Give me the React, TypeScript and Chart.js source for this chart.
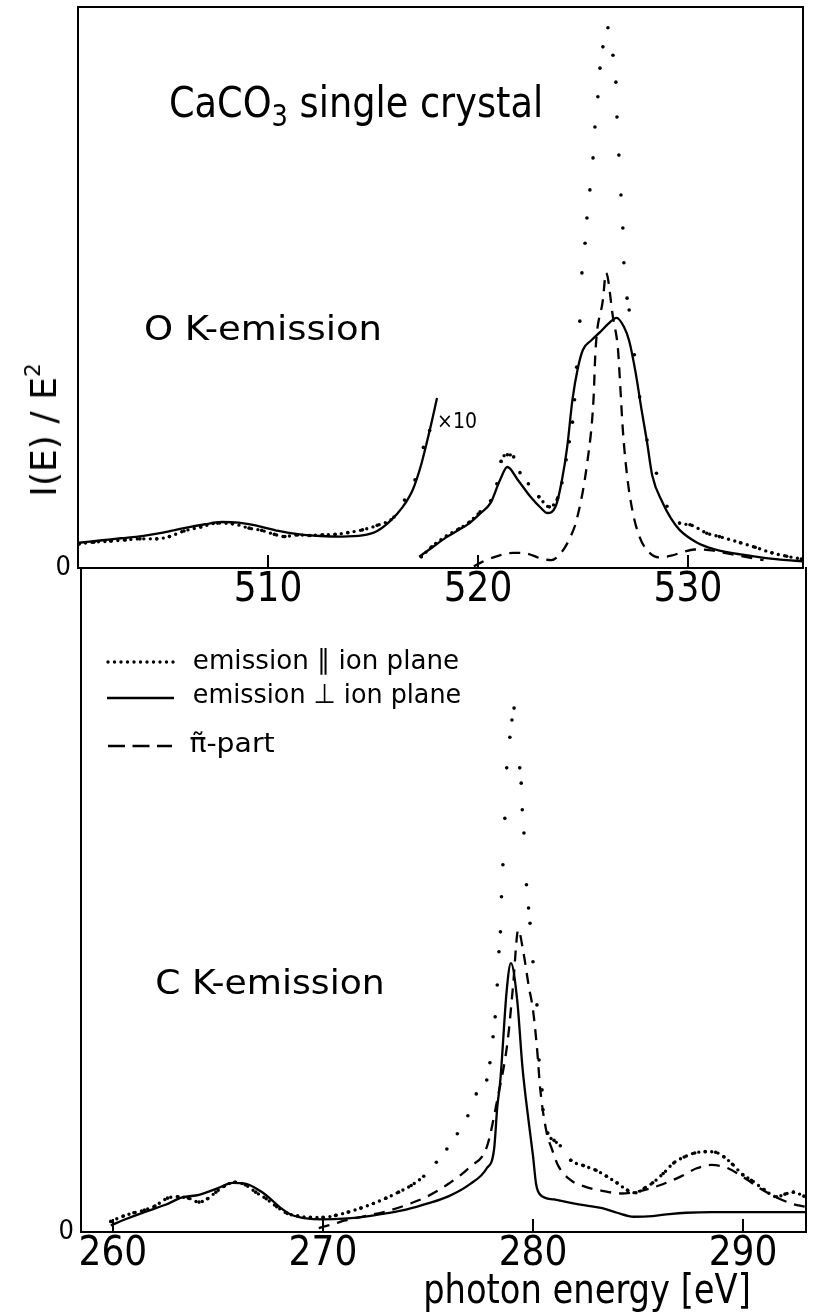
import React, { useEffect, useLayoutEffect, useRef, useState } from 'react';
import { Chart, registerables } from 'chart.js';

Chart.register(...registerables);

const FONT = "'Liberation Sans Narrow', 'DejaVu Sans Condensed', 'DejaVu Sans', sans-serif";

// ---------- Top panel: O K-emission (eV, I(E)/E^2 in arbitrary units) ----------
// x10 enlarged part
const oX10SolidE = [501.0, 502.0, 503.0, 504.0, 505.0, 506.0, 507.0, 507.8, 508.6, 509.5, 510.5, 511.5, 512.5, 513.5, 514.5, 515.2, 515.8, 516.4, 516.9, 517.3, 517.7, 518.05];
const oX10SolidI = [4.5, 4.9, 5.3, 5.7, 6.3, 7.1, 7.8, 8.2, 8.1, 7.5, 6.6, 6.0, 5.7, 5.6, 5.8, 6.6, 8.3, 10.8, 14.0, 18.5, 24.5, 30.3];
const oX10DotE = [501.0, 501.7, 502.5, 503.2, 503.9, 504.7, 505.3, 506.0, 506.8, 507.6, 508.3, 509.1, 509.7, 510.3, 510.8, 511.4, 512.0, 512.6, 513.2, 513.8, 514.5, 515.2, 516.0, 516.5, 517.0, 517.4, 517.7];
const oX10DotI = [4.3, 4.6, 4.8, 5.0, 5.2, 5.2, 5.6, 6.6, 7.3, 8.0, 7.9, 7.1, 6.7, 6.0, 5.6, 5.9, 5.8, 5.9, 6.0, 6.3, 6.8, 7.6, 9.1, 12.1, 15.7, 21.5, 24.5];
// main band
const oSolidE = [517.2, 517.8, 518.5, 519.0, 519.6, 520.1, 520.6, 521.05, 521.4, 521.9, 522.5, 523.0, 523.3, 523.7, 524.0, 524.25, 524.5, 524.75, 525.0, 525.4, 525.8, 526.2, 526.6, 526.95, 527.2, 527.5, 527.8, 528.05, 528.3, 528.8, 529.2, 529.6, 530.4, 531.2, 532.2, 533.3, 534.4, 535.45];
const oSolidI = [2.0, 3.6, 5.5, 6.6, 8.0, 9.7, 11.6, 15.7, 18.0, 15.7, 12.7, 10.7, 9.8, 11.0, 15.7, 21.6, 30.0, 35.5, 38.9, 40.6, 42.0, 43.5, 44.6, 43.0, 40.5, 35.0, 28.0, 22.5, 16.5, 11.6, 8.8, 6.8, 4.6, 3.4, 2.6, 2.0, 1.5, 1.2];
const oDotE = [517.3, 517.8, 518.5, 519.1, 519.6, 520.1, 520.6, 520.9, 521.1, 521.4, 521.7, 522.0, 522.4, 522.9, 523.4, 523.8, 524.0, 524.2, 524.35, 524.5, 524.6, 524.7, 524.85, 524.95, 525.1, 525.19, 525.33, 525.48, 525.57, 525.71, 525.81, 525.95, 526.19, 526.43, 526.57, 526.62, 526.71, 526.81, 526.9, 526.95, 527.1, 527.2, 527.45, 527.7, 528.05, 528.5, 529.0, 529.6, 530.1, 530.9, 531.5, 532.5, 533.2, 534.0, 534.7, 535.4];
const oDotI = [2.0, 3.8, 5.7, 7.0, 8.2, 10.0, 12.0, 15.0, 19.0, 20.2, 19.8, 17.0, 15.0, 12.7, 10.9, 12.5, 15.2, 19.3, 22.5, 26.0, 30.0, 35.8, 44.0, 52.6, 57.9, 62.4, 67.4, 73.1, 78.6, 84.0, 89.1, 92.9, 96.3, 91.4, 86.6, 80.4, 73.6, 66.5, 60.6, 54.4, 48.1, 46.0, 38.0, 30.5, 22.8, 16.9, 11.0, 8.0, 7.7, 6.2, 5.6, 4.5, 3.7, 2.7, 2.1, 1.6];
const oDashE = [519.8, 520.2, 521.0, 521.7, 522.3, 523.0, 523.5, 524.0, 524.4, 524.7, 525.2, 525.5, 525.6, 525.95, 526.1, 526.43, 526.67, 526.76, 526.9, 527.1, 527.38, 527.7, 528.05, 528.6, 529.2, 529.8, 530.3, 531.0, 532.0, 533.0, 533.6];
const oDashI = [0.3, 1.1, 2.2, 2.7, 2.6, 1.7, 1.4, 2.9, 5.5, 8.6, 18.7, 29.9, 38.9, 47.8, 52.6, 44.7, 38.9, 33.5, 24.6, 16.5, 9.8, 5.5, 3.2, 1.9, 2.2, 2.9, 3.3, 3.2, 2.5, 1.8, 1.4];

// ---------- Bottom panel: C K-emission ----------
const cSolidE = [259.9, 260.5, 261.5, 262.5, 263.3, 264.1, 265.0, 265.7, 266.3, 267.0, 267.5, 268.0, 268.5, 269.1, 270.0, 271.0, 272.0, 273.0, 274.0, 275.0, 276.0, 277.0, 277.8, 278.15, 278.3, 278.45, 278.75, 278.95, 279.25, 279.5, 279.8, 280.0, 280.15, 280.35, 281.0, 281.8, 282.5, 283.3, 284.0, 284.8, 285.7, 286.5, 287.3, 288.5, 289.5, 290.5, 291.5, 292.95];
const cSolidI = [1.0, 1.8, 3.0, 4.1, 5.2, 5.6, 6.6, 7.4, 7.3, 6.2, 5.0, 3.6, 2.6, 2.1, 1.9, 2.0, 2.3, 2.8, 3.4, 4.3, 5.4, 7.2, 9.6, 12.5, 18.8, 23.0, 36.4, 40.5, 34.9, 24.8, 16.5, 11.5, 7.2, 5.6, 4.9, 4.4, 4.0, 3.6, 2.9, 2.3, 2.4, 2.7, 2.9, 3.0, 3.0, 3.0, 3.0, 3.0];
const cDotE = [259.9, 260.5, 261.0, 261.5, 262.0, 262.6, 263.1, 263.6, 264.1, 264.5, 264.9, 265.3, 265.8, 266.3, 266.8, 267.3, 267.8, 268.3, 268.8, 269.4, 270.0, 270.6, 271.2, 271.8, 272.4, 273.0, 273.6, 274.2, 274.8, 275.4, 275.9, 276.4, 276.9, 277.3, 277.8, 277.95, 278.1, 278.2, 278.3, 278.38, 278.45, 278.5, 278.57, 278.66, 278.75, 278.9, 279.0, 279.1, 279.37, 279.44, 279.49, 279.57, 279.69, 279.79, 279.86, 280.0, 280.19, 280.29, 280.43, 280.48, 280.7, 281.0, 281.3, 281.8, 282.4, 283.0, 283.5, 284.0, 284.5, 284.9, 285.3, 285.7, 286.2, 286.7, 287.2, 287.7, 288.2, 288.7, 289.1, 289.5, 290.0, 290.4, 291.0, 291.6, 292.0, 292.4, 292.9];
const cDotI = [1.6, 2.4, 2.9, 3.3, 3.9, 5.1, 5.3, 5.1, 4.5, 5.0, 6.0, 6.9, 7.5, 7.1, 6.0, 5.0, 3.8, 2.8, 2.4, 2.2, 2.2, 2.5, 3.0, 3.6, 4.3, 5.1, 6.0, 7.0, 8.4, 10.5, 12.5, 14.8, 17.5, 20.8, 22.9, 25.5, 29.4, 32.4, 37.2, 42.2, 45.2, 50.5, 55.3, 62.3, 69.9, 74.5, 77.1, 78.9, 69.9, 67.6, 63.6, 60.1, 52.3, 48.8, 46.5, 40.7, 34.2, 25.9, 21.4, 18.4, 14.9, 13.8, 13.0, 10.8, 10.0, 9.3, 8.4, 7.4, 6.3, 5.9, 6.6, 7.4, 8.8, 10.4, 11.3, 11.9, 12.1, 12.0, 11.3, 10.2, 8.6, 7.8, 6.4, 5.3, 5.7, 6.0, 5.4];
const cDashE = [269.8, 270.5, 271.0, 272.0, 273.0, 274.0, 275.0, 276.0, 277.0, 277.8, 278.3, 278.8, 279.05, 279.3, 279.55, 279.8, 280.0, 280.2, 280.35, 280.65, 280.9, 281.2, 281.8, 282.5, 283.3, 284.2, 285.0, 286.0, 287.0, 287.8, 288.5, 289.2, 290.0, 290.8, 291.6, 292.4, 292.95];
const cDashI = [0.6, 1.2, 1.7, 2.4, 3.1, 4.1, 5.4, 7.3, 9.8, 12.8, 19.9, 28.9, 37.0, 45.5, 42.0, 37.0, 33.5, 27.4, 21.4, 15.0, 12.5, 10.0, 7.8, 6.8, 6.2, 5.8, 6.1, 7.0, 8.3, 9.6, 10.1, 9.7, 8.3, 6.6, 5.2, 4.2, 3.8];

// tick values
const oTicks = [510, 520, 530];
const cTicks = [260, 270, 280, 290];
const zeroTick = [0];

const pairs = (xs: number[], ys: number[]) => xs.map((x, i) => ({ x, y: ys[i] }));

const solidStyle: any = {
  borderColor: '#000', borderWidth: 2.3, pointRadius: 0, pointHoverRadius: 0,
  cubicInterpolationMode: 'monotone', fill: false,
};
const dashedStyle: any = { ...solidStyle, borderDash: [11, 8] };
const dottedStyle: any = {
  borderColor: '#000', borderWidth: 3.4, borderDash: [0, 6.5], borderCapStyle: 'round',
  pointRadius: 1.8, pointHoverRadius: 0, pointBorderWidth: 0, pointBackgroundColor: '#000',
  cubicInterpolationMode: 'monotone', fill: false,
  segment: {
    borderColor: (ctx: any) => (Math.abs(ctx.p1.y - ctx.p0.y) > 11 ? 'rgba(0,0,0,0)' : '#000'),
  },
};

const topDatasets = [
  { label: 'emission ⊥ ion plane (x10)', data: pairs(oX10SolidE, oX10SolidI), ...solidStyle },
  { label: 'emission ∥ ion plane (x10)', data: pairs(oX10DotE, oX10DotI), ...dottedStyle },
  { label: 'emission ⊥ ion plane', data: pairs(oSolidE, oSolidI), ...solidStyle },
  { label: 'emission ∥ ion plane', data: pairs(oDotE, oDotI), ...dottedStyle },
  { label: 'π-part', data: pairs(oDashE, oDashI), ...dashedStyle },
];
const bottomDatasets = [
  { label: 'emission ⊥ ion plane', data: pairs(cSolidE, cSolidI), ...solidStyle },
  { label: 'emission ∥ ion plane', data: pairs(cDotE, cDotI), ...dottedStyle },
  { label: 'π-part', data: pairs(cDashE, cDashI), ...dashedStyle },
];

function makeFrame(drawTop: boolean) {
  return {
    id: 'frame',
    afterDraw(chart: any) {
      const { ctx, chartArea: a } = chart;
      ctx.save();
      ctx.strokeStyle = '#000';
      ctx.lineWidth = 2;
      ctx.lineCap = 'square';
      ctx.beginPath();
      if (drawTop) { ctx.moveTo(a.left, a.top); ctx.lineTo(a.right, a.top); }
      ctx.moveTo(a.left, a.top); ctx.lineTo(a.left, a.bottom);
      ctx.lineTo(a.right, a.bottom); ctx.lineTo(a.right, a.top);
      ctx.stroke();
      ctx.restore();
    },
  };
}

function makeLegendSamples(items: any[]) {
  return {
    id: 'legendSamples',
    afterDraw(chart: any) {
      const ctx = chart.ctx;
      items.forEach((it) => {
        ctx.save();
        ctx.strokeStyle = '#000';
        ctx.lineWidth = it.width;
        ctx.setLineDash(it.dash);
        ctx.lineCap = it.cap;
        ctx.beginPath();
        ctx.moveTo(it.x1, it.y);
        ctx.lineTo(it.x2, it.y);
        ctx.stroke();
        ctx.restore();
      });
    },
  };
}

function Panel(p: any) {
  const ref = useRef<HTMLCanvasElement>(null);
  useEffect(() => {
    if (!ref.current) return;
    const plugins: any[] = [makeFrame(p.topBorder)];
    if (p.legendItems) plugins.push(makeLegendSamples(p.legendItems));
    const chart = new Chart(ref.current, {
      type: 'line',
      data: { datasets: p.datasets },
      options: {
        responsive: false,
        maintainAspectRatio: false,
        animation: false,
        events: [],
        layout: { autoPadding: false, padding: { top: p.padTop, right: p.padRight, left: 0, bottom: 0 } },
        plugins: { legend: { display: false }, tooltip: { enabled: false } },
        scales: {
          x: {
            type: 'linear',
            min: p.xMin,
            max: p.xMax,
            afterBuildTicks: (s: any) => { s.ticks = p.xTicks.map((v: number) => ({ value: v })); },
            afterFit: (s: any) => {
              s.height = p.xAxisHeight;
              s.paddingLeft = 0; s.paddingRight = 0; s.paddingTop = 0; s.paddingBottom = 0;
            },
            grid: { display: true, drawOnChartArea: false, drawTicks: true, tickLength: -13, color: '#000', lineWidth: 2 },
            border: { display: false },
            ticks: { color: '#000', padding: 12, maxRotation: 0, autoSkip: false, font: { family: FONT, size: 40 } },
          },
          y: {
            type: 'linear',
            min: 0,
            max: 100,
            afterBuildTicks: (s: any) => { s.ticks = zeroTick.map((v) => ({ value: v })); },
            afterFit: (s: any) => {
              s.width = p.yAxisWidth;
              s.paddingLeft = 0; s.paddingRight = 0; s.paddingTop = 0; s.paddingBottom = 0;
            },
            grid: { display: false, drawTicks: false },
            border: { display: false },
            ticks: { color: '#000', padding: 7, font: { family: FONT, size: 27 } },
          },
        },
      } as any,
      plugins,
    });
    return () => chart.destroy();
  }, []);
  return (
    <canvas
      ref={ref}
      width={814}
      height={p.canvasHeight}
      style={{ position: 'absolute', left: 0, top: p.canvasTop, width: 814, height: p.canvasHeight }}
    />
  );
}

function Label(p: any) {
  const ref = useRef<HTMLDivElement>(null);
  const [k, setK] = useState(1);
  useLayoutEffect(() => {
    const el = ref.current;
    if (!el) return;
    const nat = el.offsetWidth;
    if (nat > 0) setK(p.w / nat);
  }, [p.w]);
  return (
    <div
      ref={ref}
      style={{
        position: 'absolute',
        left: p.cx,
        top: p.cy,
        fontFamily: FONT,
        fontSize: p.size,
        lineHeight: 1,
        whiteSpace: 'nowrap',
        color: '#000',
        transformOrigin: '50% 50%',
        transform: `translate(-50%, -50%) rotate(${p.rotate || 0}deg) scaleX(${k})`,
      }}
    >
      {p.children}
    </div>
  );
}

const CANVAS_B_TOP = 560;

export default function App() {
  return (
    <div style={{ position: 'absolute', left: 0, top: 0, width: 814, height: 1315, background: '#fff', overflow: 'hidden' }}>
      <Panel
        datasets={topDatasets}
        canvasTop={0}
        canvasHeight={620}
        padTop={7}
        padRight={11}
        yAxisWidth={78}
        xAxisHeight={52}
        xMin={500.95}
        xMax={535.48}
        xTicks={oTicks}
        topBorder={true}
      />
      <Panel
        datasets={bottomDatasets}
        canvasTop={CANVAS_B_TOP}
        canvasHeight={755}
        padTop={8}
        padRight={8}
        yAxisWidth={81}
        xAxisHeight={83}
        xMin={258.48}
        xMax={293.0}
        xTicks={cTicks}
        topBorder={false}
        legendItems={[
          { x1: 108, x2: 174, y: 662 - CANVAS_B_TOP, width: 3.4, dash: [0, 6.5], cap: 'round' },
          { x1: 107, x2: 174, y: 698 - CANVAS_B_TOP, width: 2.3, dash: [], cap: 'butt' },
          { x1: 108, x2: 172, y: 746 - CANVAS_B_TOP, width: 2.3, dash: [17, 7.5], cap: 'butt' },
        ]}
      />
      <Label cx={356} cy={103} w={374} size={42}>
        CaCO<span style={{ fontSize: '0.7em', position: 'relative', top: '0.3em' }}>3</span> single crystal
      </Label>
      <Label cx={263} cy={328} w={238} size={33}>O K-emission</Label>
      <Label cx={457} cy={421} w={40} size={21}>×10</Label>
      <Label cx={44} cy={430} w={134} size={36} rotate={-90}>
        I(E) / E<span style={{ fontSize: '0.6em', position: 'relative', top: '-0.75em' }}>2</span>
      </Label>
      <Label cx={326} cy={659} w={266} size={27}>emission ∥ ion plane</Label>
      <Label cx={327} cy={693} w={268} size={27}>emission ⊥ ion plane</Label>
      <Label cx={232} cy={742} w={85} size={27}>{'\u03C0\u0303-part'}</Label>
      <Label cx={270} cy={982} w={230} size={33}>C K-emission</Label>
      <Label cx={587} cy={1289} w={328} size={40}>photon energy [eV]</Label>
    </div>
  );
}
